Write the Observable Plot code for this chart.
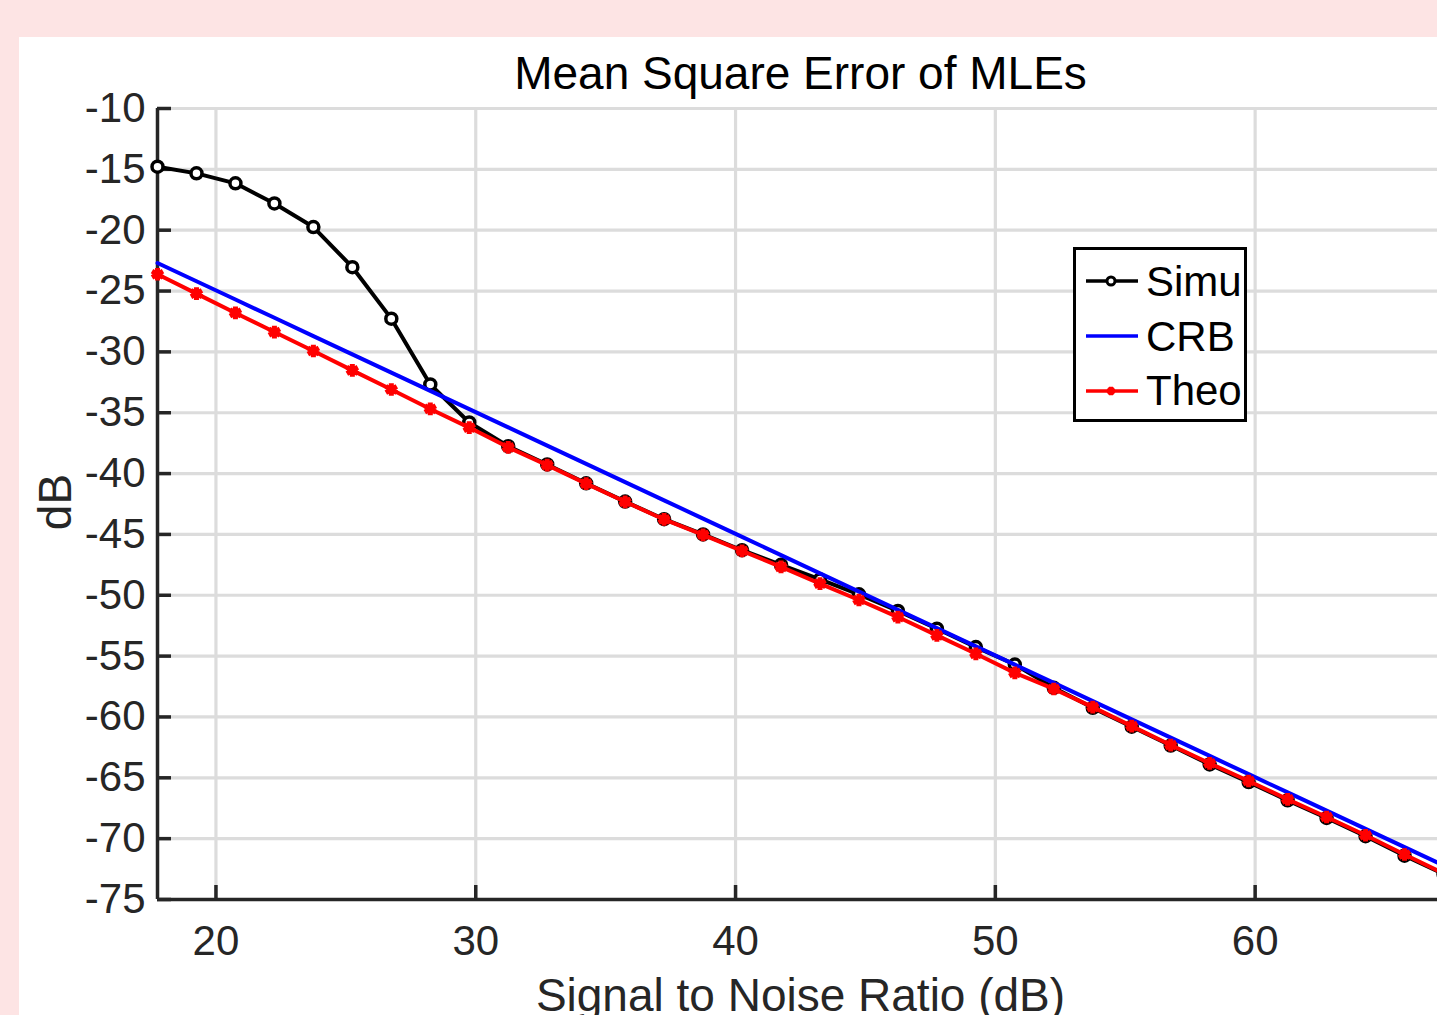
<!DOCTYPE html>
<html><head><meta charset="utf-8">
<script src="https://cdn.jsdelivr.net/npm/d3@7"></script>
<script src="https://cdn.jsdelivr.net/npm/@observablehq/plot@0.6"></script>
<style>
html,body{margin:0;padding:0;width:1437px;height:1015px;overflow:hidden;background:#fde4e4;}
#panel{position:absolute;left:19px;top:37px;width:1500px;height:1100px;background:#fff;}
#chart{position:absolute;left:0;top:0;width:1500px;height:1015px;}
#legend{position:absolute;left:1073px;top:247px;width:174px;height:175px;box-sizing:border-box;border:3px solid #000;background:#fff;}
#legend svg{position:absolute;left:0;top:0;}
</style></head><body>
<div id="panel"></div><div id="chart"></div><div id="legend"></div>
<script>
// ---- data ----
const snr = [17.75, 19.25, 20.75, 22.25, 23.75, 25.25, 26.75, 28.25, 29.75, 31.25, 32.75, 34.25, 35.75, 37.25, 38.75, 40.25, 41.75, 43.25, 44.75, 46.25, 47.75, 49.25, 50.75, 52.25, 53.75, 55.25, 56.75, 58.25, 59.75, 61.25, 62.75, 64.25, 65.75, 67.25];
const simu = [-14.78, -15.33, -16.15, -17.80, -19.74, -23.04, -27.27, -32.68, -35.80, -37.75, -39.25, -40.80, -42.30, -43.75, -45.00, -46.30, -47.50, -48.70, -49.92, -51.29, -52.75, -54.26, -55.69, -57.60, -59.25, -60.80, -62.35, -63.90, -65.35, -66.85, -68.30, -69.80, -71.40, -72.90];
const crb = [-22.70, -24.20, -25.70, -27.20, -28.70, -30.20, -31.70, -33.20, -34.70, -36.20, -37.70, -39.20, -40.70, -42.20, -43.70, -45.20, -46.70, -48.20, -49.70, -51.20, -52.70, -54.20, -55.70, -57.20, -58.70, -60.20, -61.70, -63.20, -64.70, -66.20, -67.70, -69.20, -70.70, -72.20];
const theo = [-23.62, -25.21, -26.80, -28.37, -29.93, -31.52, -33.09, -34.69, -36.22, -37.84, -39.30, -40.83, -42.32, -43.77, -45.03, -46.35, -47.67, -49.04, -50.39, -51.79, -53.30, -54.81, -56.38, -57.70, -59.19, -60.75, -62.31, -63.81, -65.26, -66.77, -68.22, -69.72, -71.30, -72.85];
const xTicks = [20, 30, 40, 50, 60];
const yTicks = [-10, -15, -20, -25, -30, -35, -40, -45, -50, -55, -60, -65, -70, -75];
const xDomain = [17.75, 67.25];
const yDomain = [-75, -10];
const titleText = "Mean Square Error of MLEs";
const xLabel = "Signal to Noise Ratio (dB)";
const yLabel = "dB";
const seriesNames = ["Simu", "CRB", "Theo"];

const rows = snr.map((s, i) => ({snr: s, simu: simu[i], crb: crb[i], theo: theo[i]}));

const W = 1500, H = 1015, mL = 157, mR = 57, mT = 108, mB = 116;
const frameW = W - mL - mR, frameH = H - mT - mB;
const axisColor = "#262626";
const gridColor = "#dcdcdc";
const font = "'Liberation Sans', Arial, Helvetica, sans-serif";

const chart = Plot.plot({
  width: W, height: H,
  marginLeft: mL, marginRight: mR, marginTop: mT, marginBottom: mB,
  style: {background: "transparent", fontFamily: font, overflow: "visible", maxWidth: "none"},
  x: {domain: xDomain},
  y: {domain: yDomain},
  marks: [
    Plot.gridX(xTicks, {stroke: gridColor, strokeOpacity: 1, strokeWidth: 3.2}),
    Plot.gridY(yTicks, {stroke: gridColor, strokeOpacity: 1, strokeWidth: 3.2}),
    Plot.ruleX([xDomain[0]], {stroke: axisColor, strokeWidth: 3.5}),
    Plot.ruleY([yDomain[0]], {stroke: axisColor, strokeWidth: 3.5}),
    Plot.tickY(yTicks, {y: d => d, insetRight: frameW - 14, stroke: axisColor, strokeWidth: 3.5}),
    Plot.tickX(xTicks, {x: d => d, insetTop: frameH - 14, stroke: axisColor, strokeWidth: 3.5}),
    Plot.axisX(xTicks, {tickSize: 0, tickPadding: 26, fontSize: 42, color: axisColor, label: null, tickFormat: d => String(d)}),
    Plot.axisY(yTicks, {tickSize: 0, tickPadding: 12, fontSize: 42, color: axisColor, label: null, tickFormat: d => String(d)}),
    // Simu
    Plot.line(rows, {x: "snr", y: "simu", stroke: "#000", strokeWidth: 4}),
    Plot.dot(rows, {x: "snr", y: "simu", r: 5.5, stroke: "#000", strokeWidth: 3.5, fill: "#fff"}),
    // CRB
    Plot.line(rows, {x: "snr", y: "crb", stroke: "#0000ff", strokeWidth: 4}),
    // Theo
    Plot.line(rows, {x: "snr", y: "theo", stroke: "#ff0000", strokeWidth: 4}),
    Plot.dot(rows, {x: "snr", y: "theo", r: 6, symbol: "asterisk", stroke: "#ff0000", strokeWidth: 5}),
    // texts
    Plot.text([titleText], {text: d => d, frameAnchor: "top", dy: -34, lineAnchor: "middle", fontSize: 46, fill: "#000"}),
    Plot.text([xLabel], {text: d => d, frameAnchor: "bottom", dy: 97, lineAnchor: "middle", fontSize: 46, fill: axisColor}),
    Plot.text([yLabel], {text: d => d, frameAnchor: "left", textAnchor: "middle", dx: -101, dy: -2, rotate: -90, lineAnchor: "middle", fontSize: 46, fill: axisColor})
  ]
});
document.getElementById("chart").appendChild(chart);

// legend
const leg = d3.select("#legend").append("svg").attr("width", 168).attr("height", 169)
  .style("font-family", font);
const entries = [
  {name: seriesNames[0], color: "#000", y: 31, base: 46, marker: "circle"},
  {name: seriesNames[1], color: "#0000ff", y: 86, base: 101, marker: null},
  {name: seriesNames[2], color: "#ff0000", y: 141, base: 155, marker: "asterisk"}
];
entries.forEach(e => {
  leg.append("line").attr("x1", 10).attr("x2", 62).attr("y1", e.y).attr("y2", e.y)
    .attr("stroke", e.color).attr("stroke-width", 3.5);
  if (e.marker === "circle") {
    leg.append("circle").attr("cx", 35).attr("cy", e.y).attr("r", 4)
      .attr("fill", "#fff").attr("stroke", e.color).attr("stroke-width", 3);
  } else if (e.marker === "asterisk") {
    leg.append("path").attr("transform", `translate(35,${e.y})`)
      .attr("d", d3.symbol(d3.symbolAsterisk, 50)())
      .attr("stroke", e.color).attr("stroke-width", 4).attr("fill", "none");
  }
  leg.append("text").attr("x", 70).attr("y", e.base).attr("font-size", 42)
    .attr("fill", "#000").text(e.name);
});
</script></body></html>
